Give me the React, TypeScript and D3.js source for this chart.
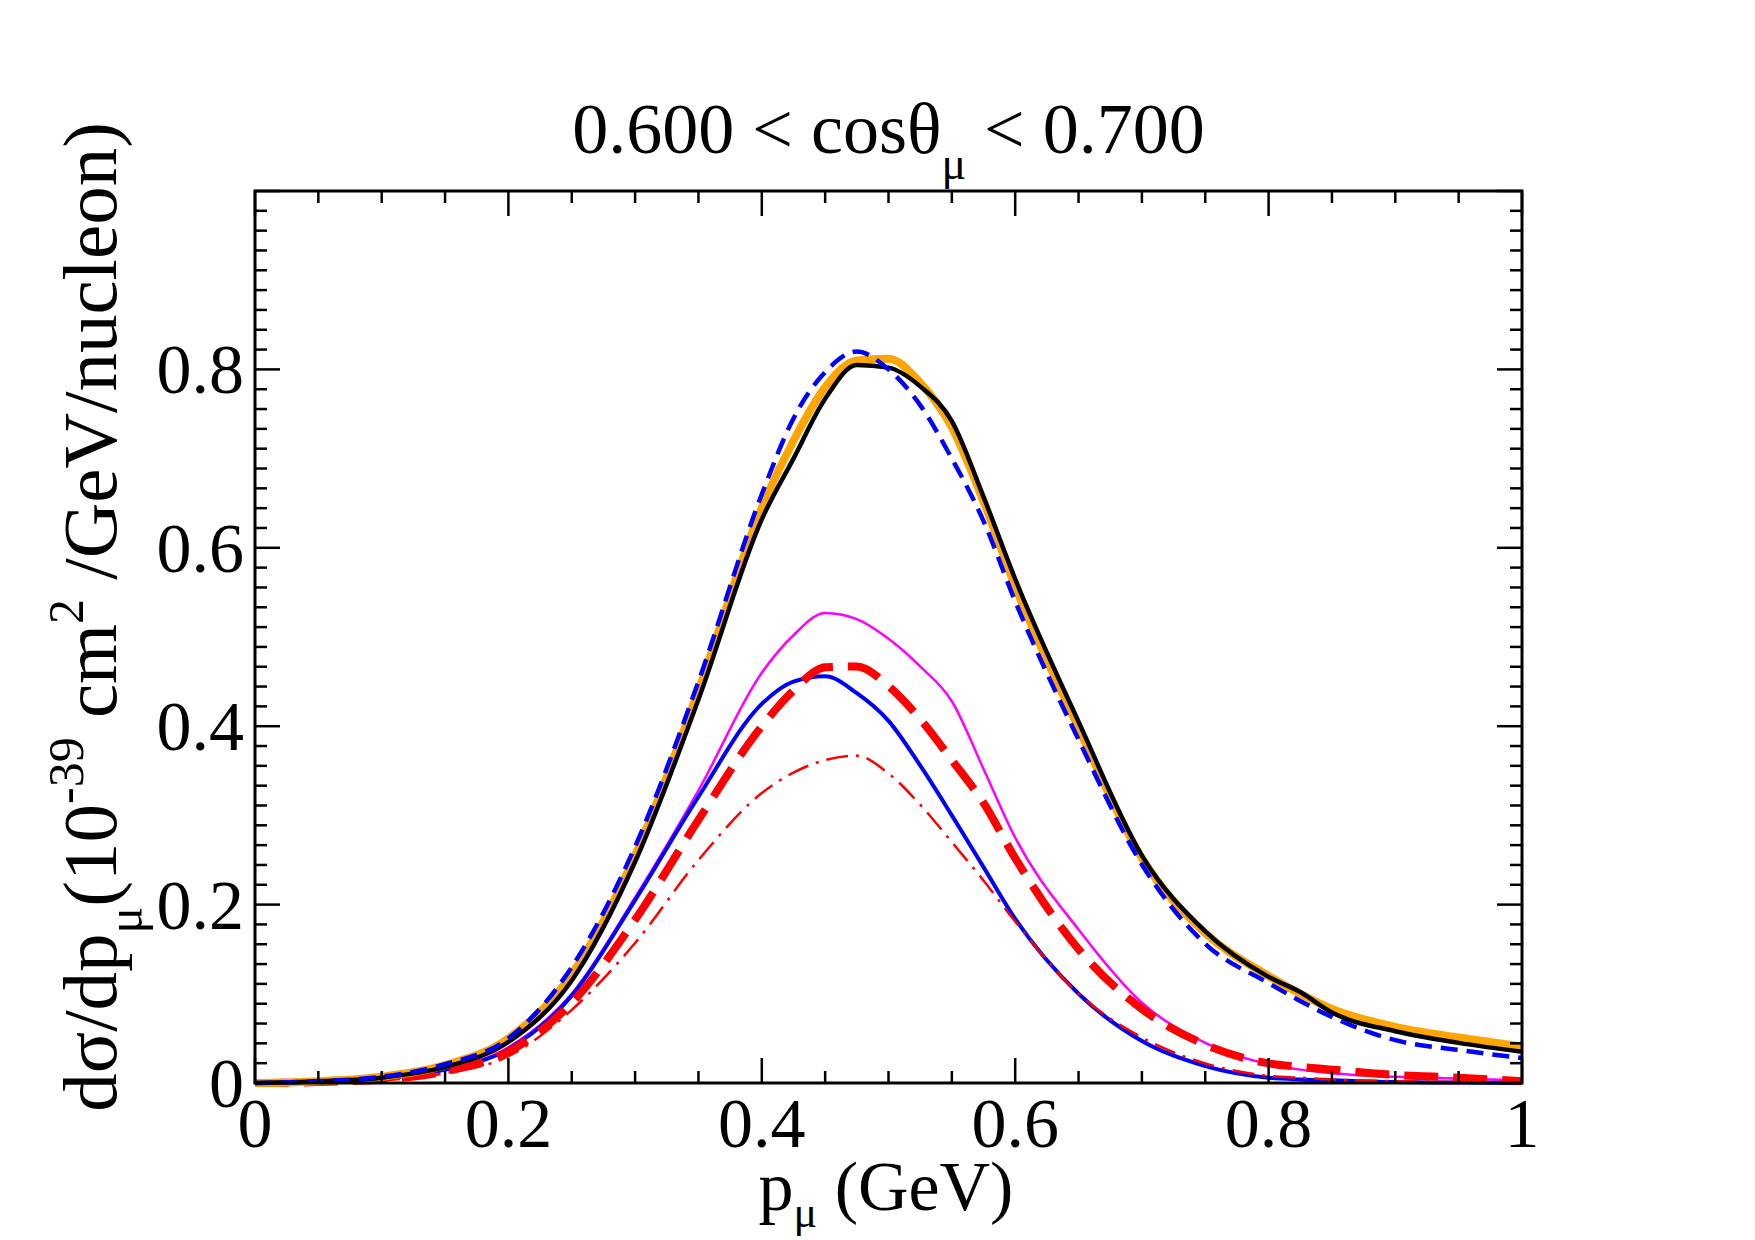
import * as d3 from 'd3';

// momentum grid (GeV)
const pmu = [0, 0.05, 0.1, 0.15, 0.2, 0.25, 0.3, 0.35, 0.4, 0.425, 0.45, 0.475, 0.5, 0.525, 0.55, 0.575, 0.6, 0.65, 0.7, 0.75, 0.8, 0.825, 0.85, 0.9, 0.95, 1.0];

// cross sections, 10^-39 cm^2/GeV/nucleon
const orangeBand = [0, 0.002, 0.007, 0.02, 0.05, 0.122, 0.255, 0.44, 0.645, 0.72, 0.78, 0.81, 0.812, 0.785, 0.735, 0.652, 0.557, 0.398, 0.252, 0.168, 0.12, 0.1, 0.083, 0.063, 0.051, 0.041];
const blackTotal = [0, 0.002, 0.006, 0.018, 0.046, 0.115, 0.248, 0.43, 0.632, 0.7, 0.767, 0.805, 0.802, 0.781, 0.742, 0.657, 0.565, 0.405, 0.255, 0.17, 0.119, 0.102, 0.079, 0.058, 0.045, 0.035];
const blueDashed = [0, 0.002, 0.007, 0.021, 0.05, 0.13, 0.265, 0.45, 0.66, 0.745, 0.797, 0.82, 0.8, 0.76, 0.7, 0.63, 0.54, 0.385, 0.245, 0.156, 0.112, 0.092, 0.074, 0.048, 0.037, 0.028];
const magentaLine = [0, 0.001, 0.005, 0.015, 0.04, 0.1, 0.208, 0.328, 0.46, 0.502, 0.527, 0.52, 0.498, 0.467, 0.428, 0.352, 0.275, 0.172, 0.09, 0.045, 0.021, 0.015, 0.011, 0.007, 0.005, 0.003];
const blueSolid = [0, 0.001, 0.005, 0.015, 0.038, 0.098, 0.205, 0.321, 0.425, 0.45, 0.456, 0.437, 0.406, 0.356, 0.3, 0.242, 0.184, 0.1, 0.047, 0.019, 0.006, 0.004, 0.003, 0.001, 0.0005, 0];
const redDashed = [0, 0.001, 0.004, 0.013, 0.035, 0.09, 0.183, 0.295, 0.4, 0.44, 0.466, 0.467, 0.445, 0.408, 0.362, 0.314, 0.252, 0.15, 0.083, 0.043, 0.022, 0.018, 0.015, 0.009, 0.006, 0.002];
const redDashDot = [0, 0.001, 0.003, 0.011, 0.03, 0.082, 0.157, 0.25, 0.325, 0.348, 0.362, 0.367, 0.347, 0.312, 0.27, 0.227, 0.181, 0.1, 0.051, 0.022, 0.008, 0.006, 0.004, 0.002, 0.001, 0];

const xTickLabels = ['0', '0.2', '0.4', '0.6', '0.8', '1'];
const yTickLabels = ['0', '0.2', '0.4', '0.6', '0.8'];

const W = 1755;
const H = 1240;
const margin = { top: 191, right: 233, bottom: 157, left: 255 };
const FONT = "'Liberation Serif', 'Times New Roman', serif";

const series = [
  { y: magentaLine, color: '#ff00ff', width: 2.5, dash: '' },
  { y: blueSolid, color: '#0000ff', width: 4, dash: '' },
  { y: redDashDot, color: '#ff0000', width: 2.5, dash: '22 8 3 8' },
  { y: redDashed, color: '#ff0000', width: 8, dash: '34 15' },
  { y: orangeBand, color: '#ffa500', width: 8, dash: '' },
  { y: blackTotal, color: '#000000', width: 4.5, dash: '' },
  { y: blueDashed, color: '#0000ff', width: 4.5, dash: '17 9' },
];

export default function App() {
  const innerW = W - margin.left - margin.right;
  const innerH = H - margin.top - margin.bottom;

  const x = d3.scaleLinear().domain([0, 1]).range([0, innerW]);
  const y = d3.scaleLinear().domain([0, 1]).range([innerH, 0]);

  const line = (vals: number[]) =>
    d3
      .line<number>()
      .x((_, i) => x(pmu[i]))
      .y((d) => y(d))
      .curve(d3.curveMonotoneX)(vals) || '';

  const xMajor = d3.range(0, 1.0001, 0.2);
  const xMinor = d3.range(0, 1.0001, 0.05).filter((v) => Math.abs(v / 0.2 - Math.round(v / 0.2)) > 1e-6);
  const yMajor = d3.range(0, 1.0001, 0.2);
  const yMinor = d3.range(0, 45).map((i) => (i * 0.2) / 9).filter((_, i) => i % 9 !== 0);

  const majorLen = 25;
  const minorLen = 12;

  return (
    <svg width={W} height={H} style={{ position: 'absolute', left: 0, top: 0, background: '#fff' }} fontFamily={FONT}>
      <rect width={W} height={H} fill="#fff" />
      {/* title */}
      <text x={margin.left + innerW / 2} y={153} fontSize={72} textAnchor="middle">
        0.600 &lt; cosθ<tspan dy={26} fontSize={46}>μ</tspan>
        <tspan dy={-26}> &lt; 0.700</tspan>
      </text>

      <g transform={`translate(${margin.left},${margin.top})`}>
        <defs>
          <clipPath id="plotclip">
            <rect x={0} y={-10} width={innerW} height={innerH + 20} />
          </clipPath>
        </defs>

        <g clipPath="url(#plotclip)">
          {series.map((s, i) => (
            <path
              key={i}
              d={line(s.y)}
              fill="none"
              stroke={s.color}
              strokeWidth={s.width}
              strokeDasharray={s.dash || undefined}
              strokeLinejoin="round"
            />
          ))}
        </g>

        {/* ticks, inward on all four sides */}
        <g stroke="#000" strokeWidth={2.5}>
          {xMajor.map((v) => (
            <g key={'xM' + v}>
              <line x1={x(v)} x2={x(v)} y1={innerH} y2={innerH - majorLen} />
              <line x1={x(v)} x2={x(v)} y1={0} y2={majorLen} />
            </g>
          ))}
          {xMinor.map((v) => (
            <g key={'xm' + v}>
              <line x1={x(v)} x2={x(v)} y1={innerH} y2={innerH - minorLen} />
              <line x1={x(v)} x2={x(v)} y1={0} y2={minorLen} />
            </g>
          ))}
          {yMajor.map((v) => (
            <g key={'yM' + v}>
              <line x1={0} x2={majorLen} y1={y(v)} y2={y(v)} />
              <line x1={innerW} x2={innerW - majorLen} y1={y(v)} y2={y(v)} />
            </g>
          ))}
          {yMinor.map((v) => (
            <g key={'ym' + v}>
              <line x1={0} x2={minorLen} y1={y(v)} y2={y(v)} />
              <line x1={innerW} x2={innerW - minorLen} y1={y(v)} y2={y(v)} />
            </g>
          ))}
        </g>

        <rect x={0} y={0} width={innerW} height={innerH} fill="none" stroke="#000" strokeWidth={3} />

        {/* tick labels */}
        {xTickLabels.map((t) => (
          <text key={'xl' + t} x={x(+t)} y={innerH + 64} fontSize={70} textAnchor="middle">
            {t}
          </text>
        ))}
        {yTickLabels.map((t) => (
          <text key={'yl' + t} x={-11} y={y(+t) + 24} fontSize={70} textAnchor="end">
            {t}
          </text>
        ))}
      </g>

      {/* x axis title */}
      <text x={886} y={1210} fontSize={70} textAnchor="middle">
        p<tspan dy={17} fontSize={44}>μ</tspan>
        <tspan dy={-17}> (GeV)</tspan>
      </text>

      {/* y axis title */}
      <text transform={`translate(116,617) rotate(-90)`} fontSize={77} textAnchor="middle">
        dσ/dp<tspan dy={26} fontSize={50}>μ</tspan>
        <tspan dy={-26}>(10</tspan>
        <tspan dy={-33} fontSize={50}>-39</tspan>
        <tspan dy={33}> cm</tspan>
        <tspan dy={-33} fontSize={50}>2</tspan>
        <tspan dy={33}> /GeV/nucleon)</tspan>
      </text>
    </svg>
  );
}
